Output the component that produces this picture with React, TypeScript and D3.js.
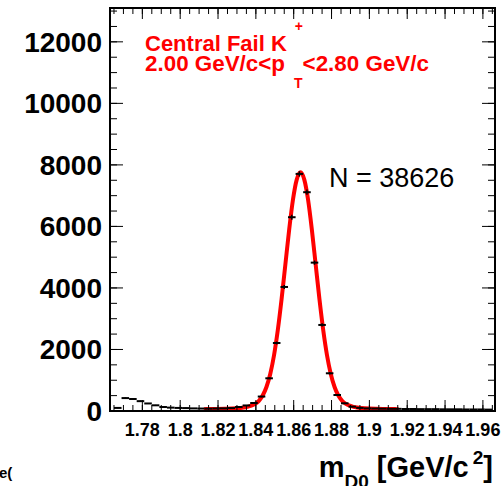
import React from 'react';
import * as d3 from 'd3';

// histogram: 50 bins of 0.004 starting at 1.765
const histLow = 1.765;
const binWidth = 0.004;
const binCounts = [
  100, 420, 390, 320, 245, 185, 130, 110, 100, 95,
  85, 80, 75, 80, 85, 95, 130, 180, 260, 470,
  1063, 2211, 4032, 6299, 7707, 7112, 4823, 2797, 1226, 520,
  250, 140, 100, 85, 80, 75, 70, 70, 65, 65,
  60, 60, 60, 55, 55, 55, 50, 50, 50, 45,
];

// fit curve
const fitMass = [
  1.8125, 1.8136, 1.8236, 1.8296, 1.8336, 1.8356, 1.8376, 1.8396, 1.8416, 1.8436,
  1.8456, 1.8476, 1.8496, 1.8516, 1.8536, 1.8556, 1.8576, 1.8596, 1.8616, 1.8636,
  1.8656, 1.8676, 1.8696, 1.8716, 1.8736, 1.8756, 1.8776, 1.8796, 1.8816, 1.8836,
  1.8856, 1.8876, 1.8896, 1.8916, 1.8936, 1.8976, 1.9036, 1.9136, 1.9155,
];
const fitCounts = [
  60, 61, 70, 87, 113, 135, 171, 230, 331, 502,
  779, 1203, 1812, 2631, 3639, 4766, 5893, 6866, 7522, 7760,
  7522, 6866, 5893, 4766, 3639, 2631, 1812, 1203, 779, 502,
  331, 230, 171, 135, 113, 87, 70, 61, 60,
];

const xTickValues = [1.78, 1.8, 1.82, 1.84, 1.86, 1.88, 1.9, 1.92, 1.94, 1.96];
const xTickLabels = ['1.78', '1.8', '1.82', '1.84', '1.86', '1.88', '1.9', '1.92', '1.94', '1.96'];
const yTickValues = [0, 2000, 4000, 6000, 8000, 10000, 12000];
const yTickLabels = ['0', '2000', '4000', '6000', '8000', '10000', '12000'];

const W = 501, H = 486;
const left = 110, right = 495, top = 8, bottom = 411;
const font = '"Liberation Sans", Arial, Helvetica, sans-serif';

export default function App() {
  const x = d3.scaleLinear().domain([1.7629, 1.9664]).range([left, right]);
  const y = d3.scaleLinear().domain([0, 13100]).range([bottom, top]);

  const xMinor = d3.range(1.765, 1.9661, 0.005);
  const yMinor = d3.range(0, 13001, 500);

  const fitLine = d3.line<number>()
    .x((d, i) => x(fitMass[i]))
    .y(d => y(d))
    .curve(d3.curveMonotoneX)(fitCounts);

  const majX = 11, minX = 6, majY = 13, minY = 7;

  return (
    <svg width={W} height={H} style={{position: 'absolute', left: 0, top: 0}} fontFamily={font}>
      <rect x={0} y={0} width={W} height={H} fill="white" />

      {/* fit */}
      <path d={fitLine || ''} fill="none" stroke="#ff0000" strokeWidth={4} />

      {/* histogram points */}
      {binCounts.map((c, i) => {
        const lo = histLow + i * binWidth;
        const cx = x(lo + binWidth / 2);
        const e = Math.sqrt(c);
        return (
          <g key={i}>
            <line x1={x(lo)} x2={x(lo + binWidth)} y1={y(c)} y2={y(c)} stroke="black" strokeWidth={2} />
            <line x1={cx} x2={cx} y1={y(c - e)} y2={y(c + e)} stroke="black" strokeWidth={1.5} />
          </g>
        );
      })}

      {/* frame */}
      <rect x={left} y={top} width={right - left} height={bottom - top} fill="none" stroke="black" strokeWidth={2} />

      {/* x ticks */}
      {xMinor.map((v, i) => (
        <g key={'xm' + i}>
          <line x1={x(v)} x2={x(v)} y1={bottom} y2={bottom - minX} stroke="black" strokeWidth={1} />
          <line x1={x(v)} x2={x(v)} y1={top} y2={top + minX} stroke="black" strokeWidth={1} />
        </g>
      ))}
      {xTickValues.map((v, i) => (
        <g key={'xM' + i}>
          <line x1={x(v)} x2={x(v)} y1={bottom} y2={bottom - majX} stroke="black" strokeWidth={1} />
          <line x1={x(v)} x2={x(v)} y1={top} y2={top + majX} stroke="black" strokeWidth={1} />
          <text x={x(v)} y={436} textAnchor="middle" fontSize={18} fontWeight="bold">{xTickLabels[i]}</text>
        </g>
      ))}

      {/* y ticks */}
      {yMinor.map((v, i) => (
        <g key={'ym' + i}>
          <line x1={left} x2={left + minY} y1={y(v)} y2={y(v)} stroke="black" strokeWidth={1} />
          <line x1={right} x2={right - minY} y1={y(v)} y2={y(v)} stroke="black" strokeWidth={1} />
        </g>
      ))}
      {yTickValues.map((v, i) => (
        <g key={'yM' + i}>
          <line x1={left} x2={left + majY} y1={y(v)} y2={y(v)} stroke="black" strokeWidth={1} />
          <line x1={right} x2={right - majY} y1={y(v)} y2={y(v)} stroke="black" strokeWidth={1} />
          <text x={102} y={y(v) + 10} textAnchor="end" fontSize={28} fontWeight="bold">{yTickLabels[i]}</text>
        </g>
      ))}

      {/* x title */}
      <text x={493} y={477} textAnchor="end" fontSize={29} fontWeight="bold">
        <tspan>m</tspan>
        <tspan fontSize={19} dy={11}>D0</tspan>
        <tspan dy={-11}> [GeV/c</tspan>
        <tspan fontSize={19} dx={4} dy={-13}>2</tspan>
        <tspan dy={13}>]</tspan>
      </text>

      {/* labels */}
      <text x={145} y={51} fontSize={22} fontWeight="bold" fill="#ff0000">
        <tspan>Central Fail K</tspan>
        <tspan fontSize={14} dx={8} dy={-20}>+</tspan>
      </text>
      <text x={145} y={71} fontSize={22.4} fontWeight="bold" fill="#ff0000">
        <tspan>2.00 GeV/c&lt;p</tspan>
        <tspan fontSize={14} dx={9} dy={17}>T</tspan>
        <tspan dy={-17}>&lt;2.80 GeV/c</tspan>
      </text>
      <text x={329} y={187} fontSize={27} fill="black">N = 38626</text>

      <text x={-1} y={478} fontSize={15} fontWeight="bold">e(</text>
    </svg>
  );
}
